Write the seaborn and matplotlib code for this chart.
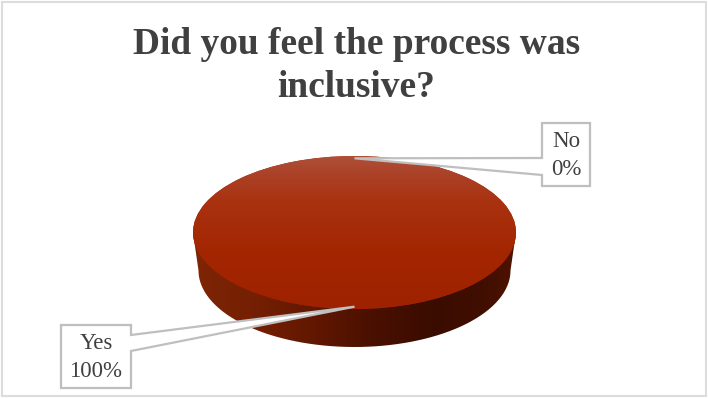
import numpy as np
import matplotlib
matplotlib.use("Agg")
import matplotlib.pyplot as plt
from matplotlib.colors import LinearSegmentedColormap
from matplotlib.patches import PathPatch, Polygon, Rectangle
from matplotlib.path import Path
import seaborn as sns

categories = ["Yes", "No"]
shares = [100, 0]
title_lines = ["Did you feel the process was", "inclusive?"]

sns.set_theme(style="white")
plt.rcParams["font.family"] = ["Liberation Serif", "DejaVu Serif"]

W, H = 708, 398
CX, CY, RX, RY = 354.5, 232.5, 161.5, 76.5
DEPTH, BOTTOM_RX = 38, 156
TEXT = "#404040"
EDGE = "#bfbfbf"

top_cmap = LinearSegmentedColormap.from_list(
    "top", [(0, "#ae5039"), (0.13, "#ab4126"), (0.3, "#a93210"), (0.65, "#a32500"), (1, "#9f2200")])
side_cmap = LinearSegmentedColormap.from_list(
    "side", [(0, "#7e2505"), (0.2, "#741f03"), (0.42, "#5c1500"), (0.55, "#4a1000"),
             (0.75, "#3a0c00"), (0.92, "#420f00"), (1, "#501200")])

fig = plt.figure(figsize=(W / 100, H / 100), dpi=100, facecolor="white")

# Pie axes fill the figure; data units are the pie radius, squashed into an ellipse.
ax = fig.add_axes([0, 0, 1, 1])
wedges, _ = ax.pie(shares, radius=1, startangle=90, counterclock=True,
                   colors=["#a32500", "#a32500"], wedgeprops={"linewidth": 0})
ax.set_aspect("auto")
xlim = (-CX / RX, (W - CX) / RX)
ylim = ((CY - H) / RY, CY / RY)

# Rim of the disc: lower half of the base ellipse joined to the top ellipse's extremes.
theta = np.linspace(np.pi, 2 * np.pi, 200)
rim_x = BOTTOM_RX / RX * np.cos(theta)
rim_y = np.sin(theta) - DEPTH / RY
rim = np.vstack([[[-1, 0]], np.column_stack([rim_x, rim_y]), [[1, 0]], [[-1, 0]]])
rim_patch = PathPatch(Path(rim), facecolor="none", edgecolor="none", transform=ax.transData)
ax.add_patch(rim_patch)
side = ax.imshow(np.linspace(0, 1, 256)[None, :], cmap=side_cmap, aspect="auto", zorder=1,
                 extent=(-1, 1, -1 - DEPTH / RY, 0))
side.set_clip_path(rim_patch)

# Top face: vertical shading clipped to the "Yes" wedge.
wedges[0].set_zorder(2)
face = ax.imshow(np.linspace(0, 1, 256)[:, None], cmap=top_cmap, aspect="auto", zorder=3,
                 extent=(-1, 1, -1, 1), origin="upper")
face.set_clip_path(wedges[0])
ax.set_xlim(xlim)
ax.set_ylim(ylim)
ax.axis("off")

# Overlay in pixel coordinates for the frame, title and callouts.
ov = fig.add_axes([0, 0, 1, 1], facecolor="none")
ov.set_xlim(0, W)
ov.set_ylim(H, 0)
ov.axis("off")


def slice_anchor(index, inset):
    """Pixel position on the top face, at the mid-angle of a slice."""
    total = sum(shares)
    start = 90 + 360 * sum(shares[:index]) / total
    mid = np.deg2rad(start + 180 * shares[index] / total)
    point = ax.transData.transform((inset * np.cos(mid), inset * np.sin(mid)))
    return ov.transData.inverted().transform(point)


ov.add_patch(Rectangle((2, 2), 704, 394, facecolor="none", edgecolor="#dcdcdc", linewidth=1.5))

for i, line in enumerate(title_lines):
    ov.text(356.5, 44.5 + i * 43, line, ha="center", va="center", fontsize=26.9,
            fontweight="bold", color=TEXT)


def callout(index, box, join_a, join_b, on_right):
    """White label box with a pointed leader running to the slice."""
    x0, y0, x1, y1 = box
    tip = slice_anchor(index, 0.97)
    if on_right:
        outline = [(x0, y0), (x1, y0), (x1, join_a), tip, (x1, join_b), (x1, y1), (x0, y1)]
    else:
        outline = [(x0, y0), (x0, join_a), tip, (x0, join_b), (x0, y1), (x1, y1), (x1, y0)]
    ov.add_patch(Polygon(outline, closed=True, facecolor="white", edgecolor=EDGE,
                         linewidth=1.6, joinstyle="miter", zorder=4))
    mid_x, mid_y = (x0 + x1) / 2, (y0 + y1) / 2
    ov.text(mid_x, mid_y - 13, categories[index], ha="center", va="center",
            fontsize=16.5, color=TEXT, zorder=5)
    ov.text(mid_x, mid_y + 15, f"{shares[index]}%", ha="center", va="center",
            fontsize=16.5, color=TEXT, zorder=5)


callout(0, (61, 325, 131, 388), 335, 351, True)
callout(1, (542, 123, 590, 186), 158, 175, False)

fig.savefig("out.png", dpi=100)
